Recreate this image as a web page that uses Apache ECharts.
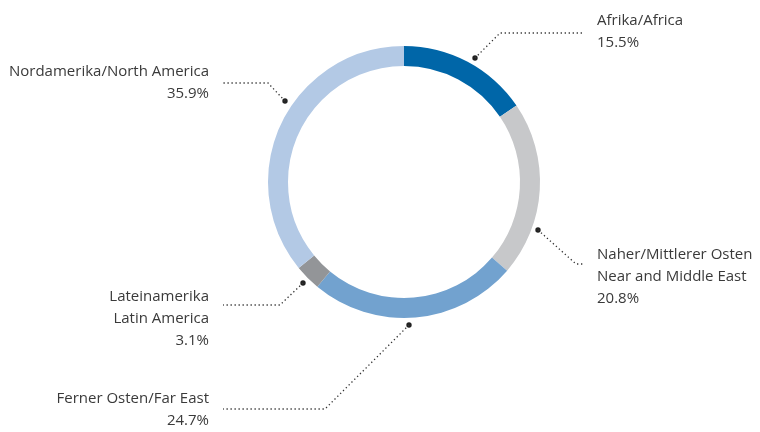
<!DOCTYPE html>
<html>
<head>
<meta charset="utf-8">
<script src="https://cdn.jsdelivr.net/npm/echarts@6/dist/echarts.min.js"></script>
<style>
  html, body { margin: 0; padding: 0; background: #fff; }
  #chart { width: 760px; height: 432px; }
</style>
</head>
<body>
<div id="chart"></div>
<script>
// regional split, clockwise from 12 o'clock
const regions = [
    "Afrika/Africa",
    "Naher/Mittlerer Osten\nNear and Middle East",
    "Ferner Osten/Far East",
    "Lateinamerika\nLatin America",
    "Nordamerika/North America"
];
const shares = [15.5, 20.8, 24.7, 3.1, 35.9];
const colors = ["#0066a8", "#c7c8ca", "#72a2cf", "#939598", "#b3c9e5"];

// where each label sits and how its leader line runs (dot, elbow, end)
const labelPos = [
    { x: 597, y: 32, align: "left", line: [[475, 58], [500, 33], [584, 33]] },
    { x: 597, y: 277, align: "left", line: [[538, 230], [576, 264], [584, 264]] },
    { x: 209, y: 410, align: "right", line: [[409, 325], [325, 409], [223, 409]] },
    { x: 209, y: 319, align: "right", line: [[303, 283], [280, 305], [223, 305]] },
    { x: 209, y: 83, align: "right", line: [[285, 101], [268, 83], [223, 83]] }
];

const chart = echarts.init(document.getElementById("chart"));

const data = shares.map((v, i) => ({
    name: regions[i],
    value: v,
    itemStyle: { color: colors[i] }
}));

chart.setOption({
    animation: false,
    series: [
        {
            type: "pie",
            center: [404, 182],
            radius: [116, 136],
            startAngle: 90,
            clockwise: true,
            silent: true,
            data: data,
            label: {
                show: true,
                formatter: (p) => p.name + "\n" + p.value.toFixed(1) + "%",
                fontFamily: "Open Sans",
                fontSize: 15,
                lineHeight: 22,
                color: "#3a3a3a"
            },
            labelLine: {
                show: true,
                lineStyle: { color: "#333", width: 1.3, type: [1.3, 2.7] }
            },
            labelLayout: (params) => {
                const l = labelPos[params.dataIndex];
                return {
                    x: l.x,
                    y: l.y,
                    align: l.align,
                    verticalAlign: "middle",
                    labelLinePoints: l.line
                };
            }
        }
    ],
    graphic: labelPos.map((l) => ({
        type: "circle",
        shape: { cx: l.line[0][0], cy: l.line[0][1], r: 2.7 },
        style: { fill: "#222" },
        silent: true
    }))
});
</script>
</body>
</html>
